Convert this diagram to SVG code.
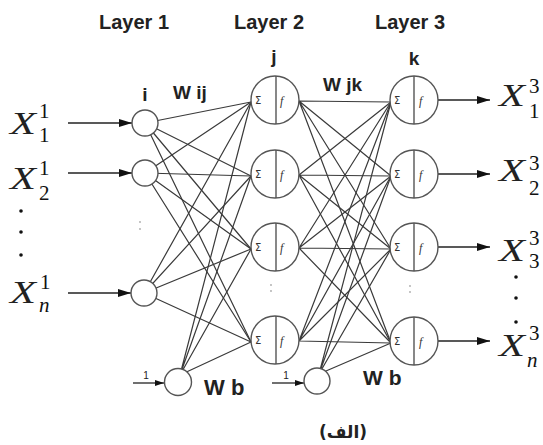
<svg xmlns="http://www.w3.org/2000/svg" width="543" height="445" viewBox="0 0 543 445">
<style>
.lbl{font-family:"Liberation Sans",Arial,sans-serif;font-weight:bold;fill:#222}
.lay{font-size:20px}
.w{font-size:19px}
.X{font-family:"Liberation Serif","Times New Roman",serif;font-style:italic;font-size:32px;fill:#222}
.s{font-family:"Liberation Serif","Times New Roman",serif;font-size:21px;fill:#111}
.c{stroke:#3a3a3a;stroke-width:1.2;fill:none}
.n{fill:#fff;stroke:#555;stroke-width:1.4}
.sig{font-family:"DejaVu Sans",sans-serif;font-size:10px;fill:#333}
.f{font-family:"Liberation Serif",serif;font-style:italic;font-size:12px;fill:#333}
.arr{stroke:#222;stroke-width:1.6;fill:none}
.dot{fill:#111}
.gd{fill:#aaa}
</style>
<defs>
<marker id="ah" markerWidth="14" markerHeight="10" refX="13" refY="5" orient="auto" markerUnits="userSpaceOnUse">
<path d="M0,1 L13,5 L0,9 Z" fill="#111"/>
</marker>
<marker id="ahs" markerWidth="10" markerHeight="8" refX="9" refY="4" orient="auto" markerUnits="userSpaceOnUse">
<path d="M0,1 L9,4 L0,7 Z" fill="#111"/>
</marker>
</defs>
<g id="titles" class="lbl lay">
<text x="134" y="29" text-anchor="middle">Layer 1</text>
<text x="269" y="29" text-anchor="middle">Layer 2</text>
<text x="410" y="29" text-anchor="middle">Layer 3</text>
</g>
<g id="connectors">
<g class="c">
<path d="M145,123 L251,102 M145,123 L251,176 M145,123 L251,249 M145,123 L251,342"/>
<path d="M145,173 L251,102 M145,173 L251,176 M145,173 L251,249 M145,173 L251,342"/>
<path d="M144,293 L251,102 M144,293 L251,176 M144,293 L251,249 M144,293 L251,342"/>
<path d="M180,375 L251,102 M180,375 L251,176 M180,375 L251,249 M180,375 L251,342"/>
<path d="M299,101 L391,102 M299,101 L391,176 M299,101 L391,249 M299,101 L391,343"/>
<path d="M299,175 L391,102 M299,175 L391,176 M299,175 L391,249 M299,175 L391,343"/>
<path d="M299,248 L391,102 M299,248 L391,176 M299,248 L391,249 M299,248 L391,343"/>
<path d="M299,341 L391,102 M299,341 L391,176 M299,341 L391,249 M299,341 L391,343"/>
<path d="M319,374 L391,102 M319,374 L391,176 M319,374 L391,249 M319,374 L391,343"/>
</g>
<g class="arr">
<path d="M68,123 L132,123" marker-end="url(#ah)"/>
<path d="M68,173 L132,173" marker-end="url(#ah)"/>
<path d="M68,293 L131,293" marker-end="url(#ah)"/>
<path d="M133,383 L164,383" stroke-width="1.3" marker-end="url(#ahs)"/>
<path d="M272,383 L304,383" stroke-width="1.3" marker-end="url(#ahs)"/>
<path d="M438,100 L490,100" marker-end="url(#ah)"/>
<path d="M438,174 L490,174" marker-end="url(#ah)"/>
<path d="M438,247 L490,247" marker-end="url(#ah)"/>
<path d="M438,341 L490,341" marker-end="url(#ah)"/>
</g>
</g>
<g id="in1"><circle class="n" cx="145" cy="123" r="13"/></g>
<g id="in2"><circle class="n" cx="145" cy="173" r="13"/></g>
<g id="inN"><circle class="n" cx="144" cy="293" r="13"/></g>
<g id="bias1"><circle class="n" cx="178" cy="382" r="13.5"/></g>
<g id="bias2"><circle class="n" cx="317" cy="381" r="13"/></g>
<g id="h1"><circle class="n" cx="275" cy="100" r="24"/><line x1="276" y1="76" x2="276" y2="124" stroke="#555" stroke-width="1.4"/><text class="sig" x="255" y="104">Σ</text><text class="f" x="280" y="105">f</text></g>
<g id="h2"><circle class="n" cx="275" cy="174" r="24"/><line x1="276" y1="150" x2="276" y2="198" stroke="#555" stroke-width="1.4"/><text class="sig" x="255" y="178">Σ</text><text class="f" x="280" y="179">f</text></g>
<g id="h3"><circle class="n" cx="275" cy="247" r="24"/><line x1="276" y1="223" x2="276" y2="271" stroke="#555" stroke-width="1.4"/><text class="sig" x="255" y="251">Σ</text><text class="f" x="280" y="252">f</text></g>
<g id="h4"><circle class="n" cx="275" cy="340" r="24"/><line x1="276" y1="316" x2="276" y2="364" stroke="#555" stroke-width="1.4"/><text class="sig" x="255" y="344">Σ</text><text class="f" x="280" y="345">f</text></g>
<g id="o1"><circle class="n" cx="414" cy="100" r="24"/><line x1="414" y1="76" x2="414" y2="124" stroke="#555" stroke-width="1.4"/><text class="sig" x="394" y="104">Σ</text><text class="f" x="419" y="105">f</text></g>
<g id="o2"><circle class="n" cx="414" cy="174" r="24"/><line x1="414" y1="150" x2="414" y2="198" stroke="#555" stroke-width="1.4"/><text class="sig" x="394" y="178">Σ</text><text class="f" x="419" y="179">f</text></g>
<g id="o3"><circle class="n" cx="414" cy="247" r="24"/><line x1="414" y1="223" x2="414" y2="271" stroke="#555" stroke-width="1.4"/><text class="sig" x="394" y="251">Σ</text><text class="f" x="419" y="252">f</text></g>
<g id="o4"><circle class="n" cx="414" cy="341" r="24"/><line x1="414" y1="317" x2="414" y2="365" stroke="#555" stroke-width="1.4"/><text class="sig" x="394" y="345">Σ</text><text class="f" x="419" y="346">f</text></g>
<g id="labels" class="lbl w">
<text x="145" y="101" text-anchor="middle">i</text>
<text x="173" y="99">W ij</text>
<text x="274" y="63" text-anchor="middle">j</text>
<text x="323" y="91">W jk</text>
<text x="414" y="65" text-anchor="middle">k</text>
<text x="204" y="395" font-size="22">W b</text>
<text x="363" y="385" font-size="21">W b</text>
<text x="146" y="379" font-size="10" font-weight="normal" text-anchor="middle">1</text>
<text x="286" y="379" font-size="10" font-weight="normal" text-anchor="middle">1</text>
</g>
<g id="inputs">
<text class="X" x="10" y="134" textLength="26" lengthAdjust="spacingAndGlyphs">X</text><text class="s" x="39" y="118">1</text><text class="s" x="39" y="142">1</text>
<text class="X" x="10" y="189" textLength="26" lengthAdjust="spacingAndGlyphs">X</text><text class="s" x="39" y="175">1</text><text class="s" x="39" y="200">2</text>
<circle class="dot" cx="21" cy="211" r="1.8"/>
<circle class="dot" cx="21" cy="232" r="1.8"/>
<circle class="dot" cx="21" cy="255" r="1.8"/>
<text class="X" x="10" y="303" textLength="26" lengthAdjust="spacingAndGlyphs">X</text><text class="s" x="40" y="289">1</text><text class="s" x="39" y="312" font-style="italic" font-size="17">n</text>
</g>
<g id="outputs">
<text class="X" x="499" y="106" textLength="26" lengthAdjust="spacingAndGlyphs">X</text><text class="s" x="529" y="93">3</text><text class="s" x="529" y="118">1</text>
<text class="X" x="499" y="181" textLength="26" lengthAdjust="spacingAndGlyphs">X</text><text class="s" x="529" y="170">3</text><text class="s" x="529" y="195">2</text>
<text class="X" x="499" y="261" textLength="26" lengthAdjust="spacingAndGlyphs">X</text><text class="s" x="529" y="245">3</text><text class="s" x="529" y="268">3</text>
<circle class="dot" cx="516" cy="277" r="1.8"/>
<circle class="dot" cx="516" cy="298" r="1.8"/>
<circle class="dot" cx="516" cy="322" r="1.8"/>
<text class="X" x="499" y="356" textLength="26" lengthAdjust="spacingAndGlyphs">X</text><text class="s" x="529" y="340">3</text><text class="s" x="527" y="367" font-style="italic" font-size="17">n</text>
</g>
<g id="ellipses">
<circle class="gd" cx="140" cy="222" r="0.9"/><circle class="gd" cx="140" cy="229" r="0.9"/>
<circle class="gd" cx="271" cy="285" r="0.9"/><circle class="gd" cx="271" cy="291" r="0.9"/>
<circle class="gd" cx="410" cy="286" r="0.9"/><circle class="gd" cx="410" cy="292" r="0.9"/>
</g>
<g id="caption">
<text x="343" y="438" text-anchor="middle" font-family="'DejaVu Sans',sans-serif" font-weight="bold" font-size="17" fill="#222">(الف)</text>
</g>
</svg>
